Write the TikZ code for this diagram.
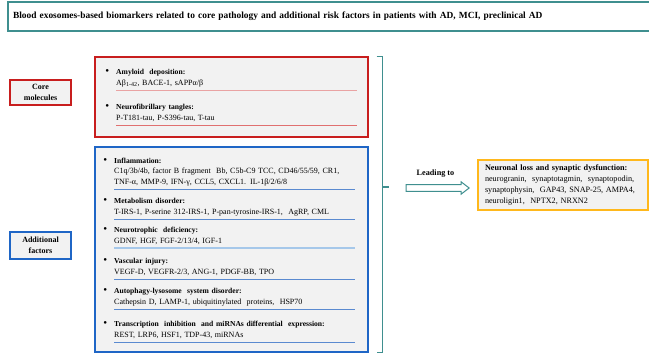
\documentclass[tikz,border=0pt]{standalone}
\usepackage{fontspec}
\setmainfont{Liberation Serif}
\usetikzlibrary{positioning, calc, shapes.arrows}
\definecolor{figteal}{HTML}{3F8F8F}
\definecolor{figred}{HTML}{C81E1E}
\definecolor{figrulered}{HTML}{E07070}
\definecolor{figrulepink}{HTML}{E9A3A3}
\definecolor{figblue}{HTML}{1F66C6}
\definecolor{figruleblue}{HTML}{5A8AD0}
\definecolor{figrulelight}{HTML}{A6C8EA}
\definecolor{figorange}{HTML}{FFB81C}
\definecolor{figpanel}{HTML}{F2F2F2}
\newcommand{\figbul}{\makebox[0pt][r]{{\fontsize{11}{11}\selectfont\textbullet}\hspace{7pt}}}
\newcommand{\fighead}[1]{{\fontsize{7.6}{10.5}\selectfont\bfseries #1}}

\begin{document}
\begin{tikzpicture}[
  x=1pt, y=-1pt,
  font=\fontsize{8}{10.5}\selectfont,
  figtitlebox/.style={
    rectangle, draw=figteal, line width=1.5pt, fill=white,
    minimum width=644pt, minimum height=29pt,
    text width=634pt, inner xsep=5pt, align=left,
    font=\fontsize{9.4}{11}\selectfont\bfseries,
  },
  figgroup/.style={
    rectangle, line width=1.4pt, fill=figpanel,
    minimum width=273pt, inner sep=0pt,
  },
  figtag/.style={
    rectangle, line width=1.2pt, fill=figpanel,
    minimum width=61pt, inner sep=1pt, align=center,
    font=\fontsize{8}{10.5}\selectfont\bfseries,
  },
  figitem/.style={
    anchor=south west, text width=241pt,
    inner xsep=0pt, inner ysep=1.5pt, align=left,
  },
  figrule/.style={line width=0.8pt},
  figresult/.style={
    rectangle, draw=figorange, line width=1.4pt, fill=figpanel,
    minimum width=170pt, minimum height=50pt,
    text width=156pt, inner xsep=7pt, align=left,
    font=\fontsize{8.2}{10.8}\selectfont,
  },
  figleadarrow/.style={
    single arrow, draw=figteal, line width=1pt, fill=white,
    minimum height=63pt, inner sep=2.8pt,
    single arrow head extend=2.8pt, single arrow tip angle=75,
  },
]
\useasboundingbox (0,0) rectangle (649,353);
\node[figtitlebox] (figtitle) at (330,16.5) {Blood exosomes-based biomarkers related to core pathology and additional risk factors in patients with AD, MCI, preclinical AD};
\node[figtag, draw=figred, minimum height=25pt] (figcoretag) at (40.5,92.5) {Core\\molecules};
\node[figtag, draw=figblue, minimum height=27pt] (figaddtag) at (40.5,245.5) {Additional\\factors};
\node[figgroup, draw=figred, minimum height=80pt] (figcore) at (231.5,97) {};
\node[figgroup, draw=figblue, minimum height=205pt] (figadd) at (231.5,249.5) {};
\node[figitem] (figamyloid) at (116,90) {\figbul\fighead{Amyloid\ \ deposition:}\\Aβ\textsubscript{1-42}, BACE-1, sAPPα/β\strut};
\node[figitem] (figtangle) at (116,125) {\figbul\fighead{Neurofibrillary\ tangles:}\\P-T181-tau, P-S396-tau, T-tau\strut};
\node[figitem] (figinflam) at (114,189) {\figbul\fighead{Inflammation:}\\C1q/3b/4b, factor B fragment\ \ Bb, C5b-C9 TCC, CD46/55/59, CR1,\\TNF-α, MMP-9, IFN-γ, CCL5, CXCL1. IL-1β/2/6/8\strut};
\node[figitem] (figmetab) at (114,219) {\figbul\fighead{Metabolism disorder:}\\T-IRS-1, P-serine 312-IRS-1, P-pan-tyrosine-IRS-1,\ \ AgRP, CML\strut};
\node[figitem] (figneurotro) at (114,248) {\figbul\fighead{Neurotrophic\ \ deficiency:}\\GDNF, HGF, FGF-2/13/4, IGF-1\strut};
\node[figitem] (figvasc) at (114,279) {\figbul\fighead{Vascular injury:}\\VEGF-D, VEGFR-2/3, ANG-1, PDGF-BB, TPO\strut};
\node[figitem] (figautoph) at (114,309) {\figbul\fighead{Autophagy-lysosome\ \ system disorder:}\\Cathepsin D, LAMP-1, ubiquitinylated\ \ proteins,\ \ HSP70\strut};
\node[figitem] (figtranscr) at (114,342) {\figbul\fighead{Transcription\ \ inhibition\ \ and miRNAs differential\ \ expression:}\\REST, LRP6, HSF1, TDP-43, miRNAs\strut};
\draw[figrule, figrulepink] (figamyloid.south west) -- (figamyloid.south east);
\draw[figrule, figrulered] (figtangle.south west) -- (figtangle.south east);
\draw[figrule, figruleblue] (figinflam.south west) -- (figinflam.south east);
\draw[figrule, figruleblue] (figmetab.south west) -- (figmetab.south east);
\draw[figrule, figrulelight, line width=1.5pt] (figneurotro.south west) -- (figneurotro.south east);
\draw[figrule, figruleblue] (figvasc.south west) -- (figvasc.south east);
\draw[figrule, figruleblue] (figautoph.south west) -- (figautoph.south east);
\draw[figrule, figruleblue] (figtranscr.south west) -- (figtranscr.south east);
\coordinate (figbrackmid) at (382,187);
\coordinate (figbracktip) at (389,187);
\draw[figteal, line width=1.3pt] ([xshift=8pt]figcore.north east) -| ([xshift=14pt]figadd.south east) -- ([xshift=8pt]figadd.south east);
\draw[figteal, line width=1.3pt] (figbrackmid) -- (figbracktip);
\node[figleadarrow] (figlead) at (435.5,188) {};
\node[font=\fontsize{8.2}{9}\selectfont\bfseries, above=3pt of figlead] (figleadtext) {Leading to};
\node[figresult] (figoutcome) at (563,185) {\textbf{Neuronal loss and synaptic dysfunction:}\\neurogranin,\ \ synaptotagmin,\ \ synaptopodin,\\synaptophysin,\ \ GAP43, SNAP-25, AMPA4,\\neuroligin1,\ \ NPTX2, NRXN2};
\end{tikzpicture}
\end{document}
